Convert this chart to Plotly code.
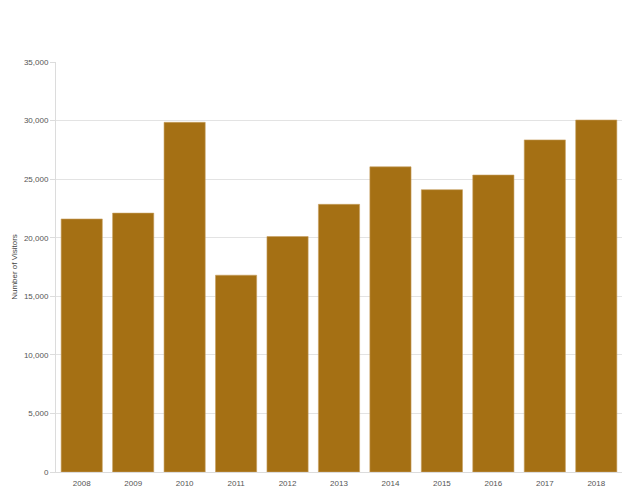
import plotly.graph_objects as go

years = ["2008", "2009", "2010", "2011", "2012", "2013", "2014", "2015", "2016", "2017", "2018"]
visitors = [21600, 22100, 29850, 16800, 20100, 22850, 26050, 24100, 25350, 28350, 30050]
y_ticks = [0, 5000, 10000, 15000, 20000, 25000, 30000, 35000]
y_tick_labels = ["0", "5,000", "10,000", "15,000", "20,000", "25,000", "30,000", "35,000"]

fig = go.Figure(go.Bar(
    x=years, y=visitors,
    marker=dict(color="#A57014", line=dict(color="#C8A060", width=0.6)),
    hovertemplate="%{x}: %{y:,}<extra></extra>",
))

# page body has an 8px default margin, so the figure is sized to fit the 640x495 window
fig.update_layout(
    width=632, height=487,
    margin=dict(l=48, r=18, t=54, b=23),
    paper_bgcolor="white", plot_bgcolor="white",
    bargap=0.2,
    showlegend=False,
    font=dict(family="Arial, Liberation Sans, sans-serif", size=9, color="#555"),
)
fig.update_yaxes(
    range=[0, 35000], tickvals=y_ticks, ticktext=y_tick_labels,
    gridcolor="#e3e3e3", gridwidth=1, zeroline=False,
    showline=True, linecolor="#dcdcdc", linewidth=1,
    ticks="outside", ticklen=5, tickcolor="#dcdcdc",
    tickfont=dict(size=8, color="#555"),
    automargin=False,
    title=dict(text="Number of Visitors", font=dict(size=8, color="#444"), standoff=5),
)
fig.update_xaxes(
    showline=True, linecolor="#dcdcdc", linewidth=1,
    showgrid=False, automargin=False,
    ticklabelstandoff=3,
    tickfont=dict(size=8, color="#555"),
)

fig.write_html("out.html")
